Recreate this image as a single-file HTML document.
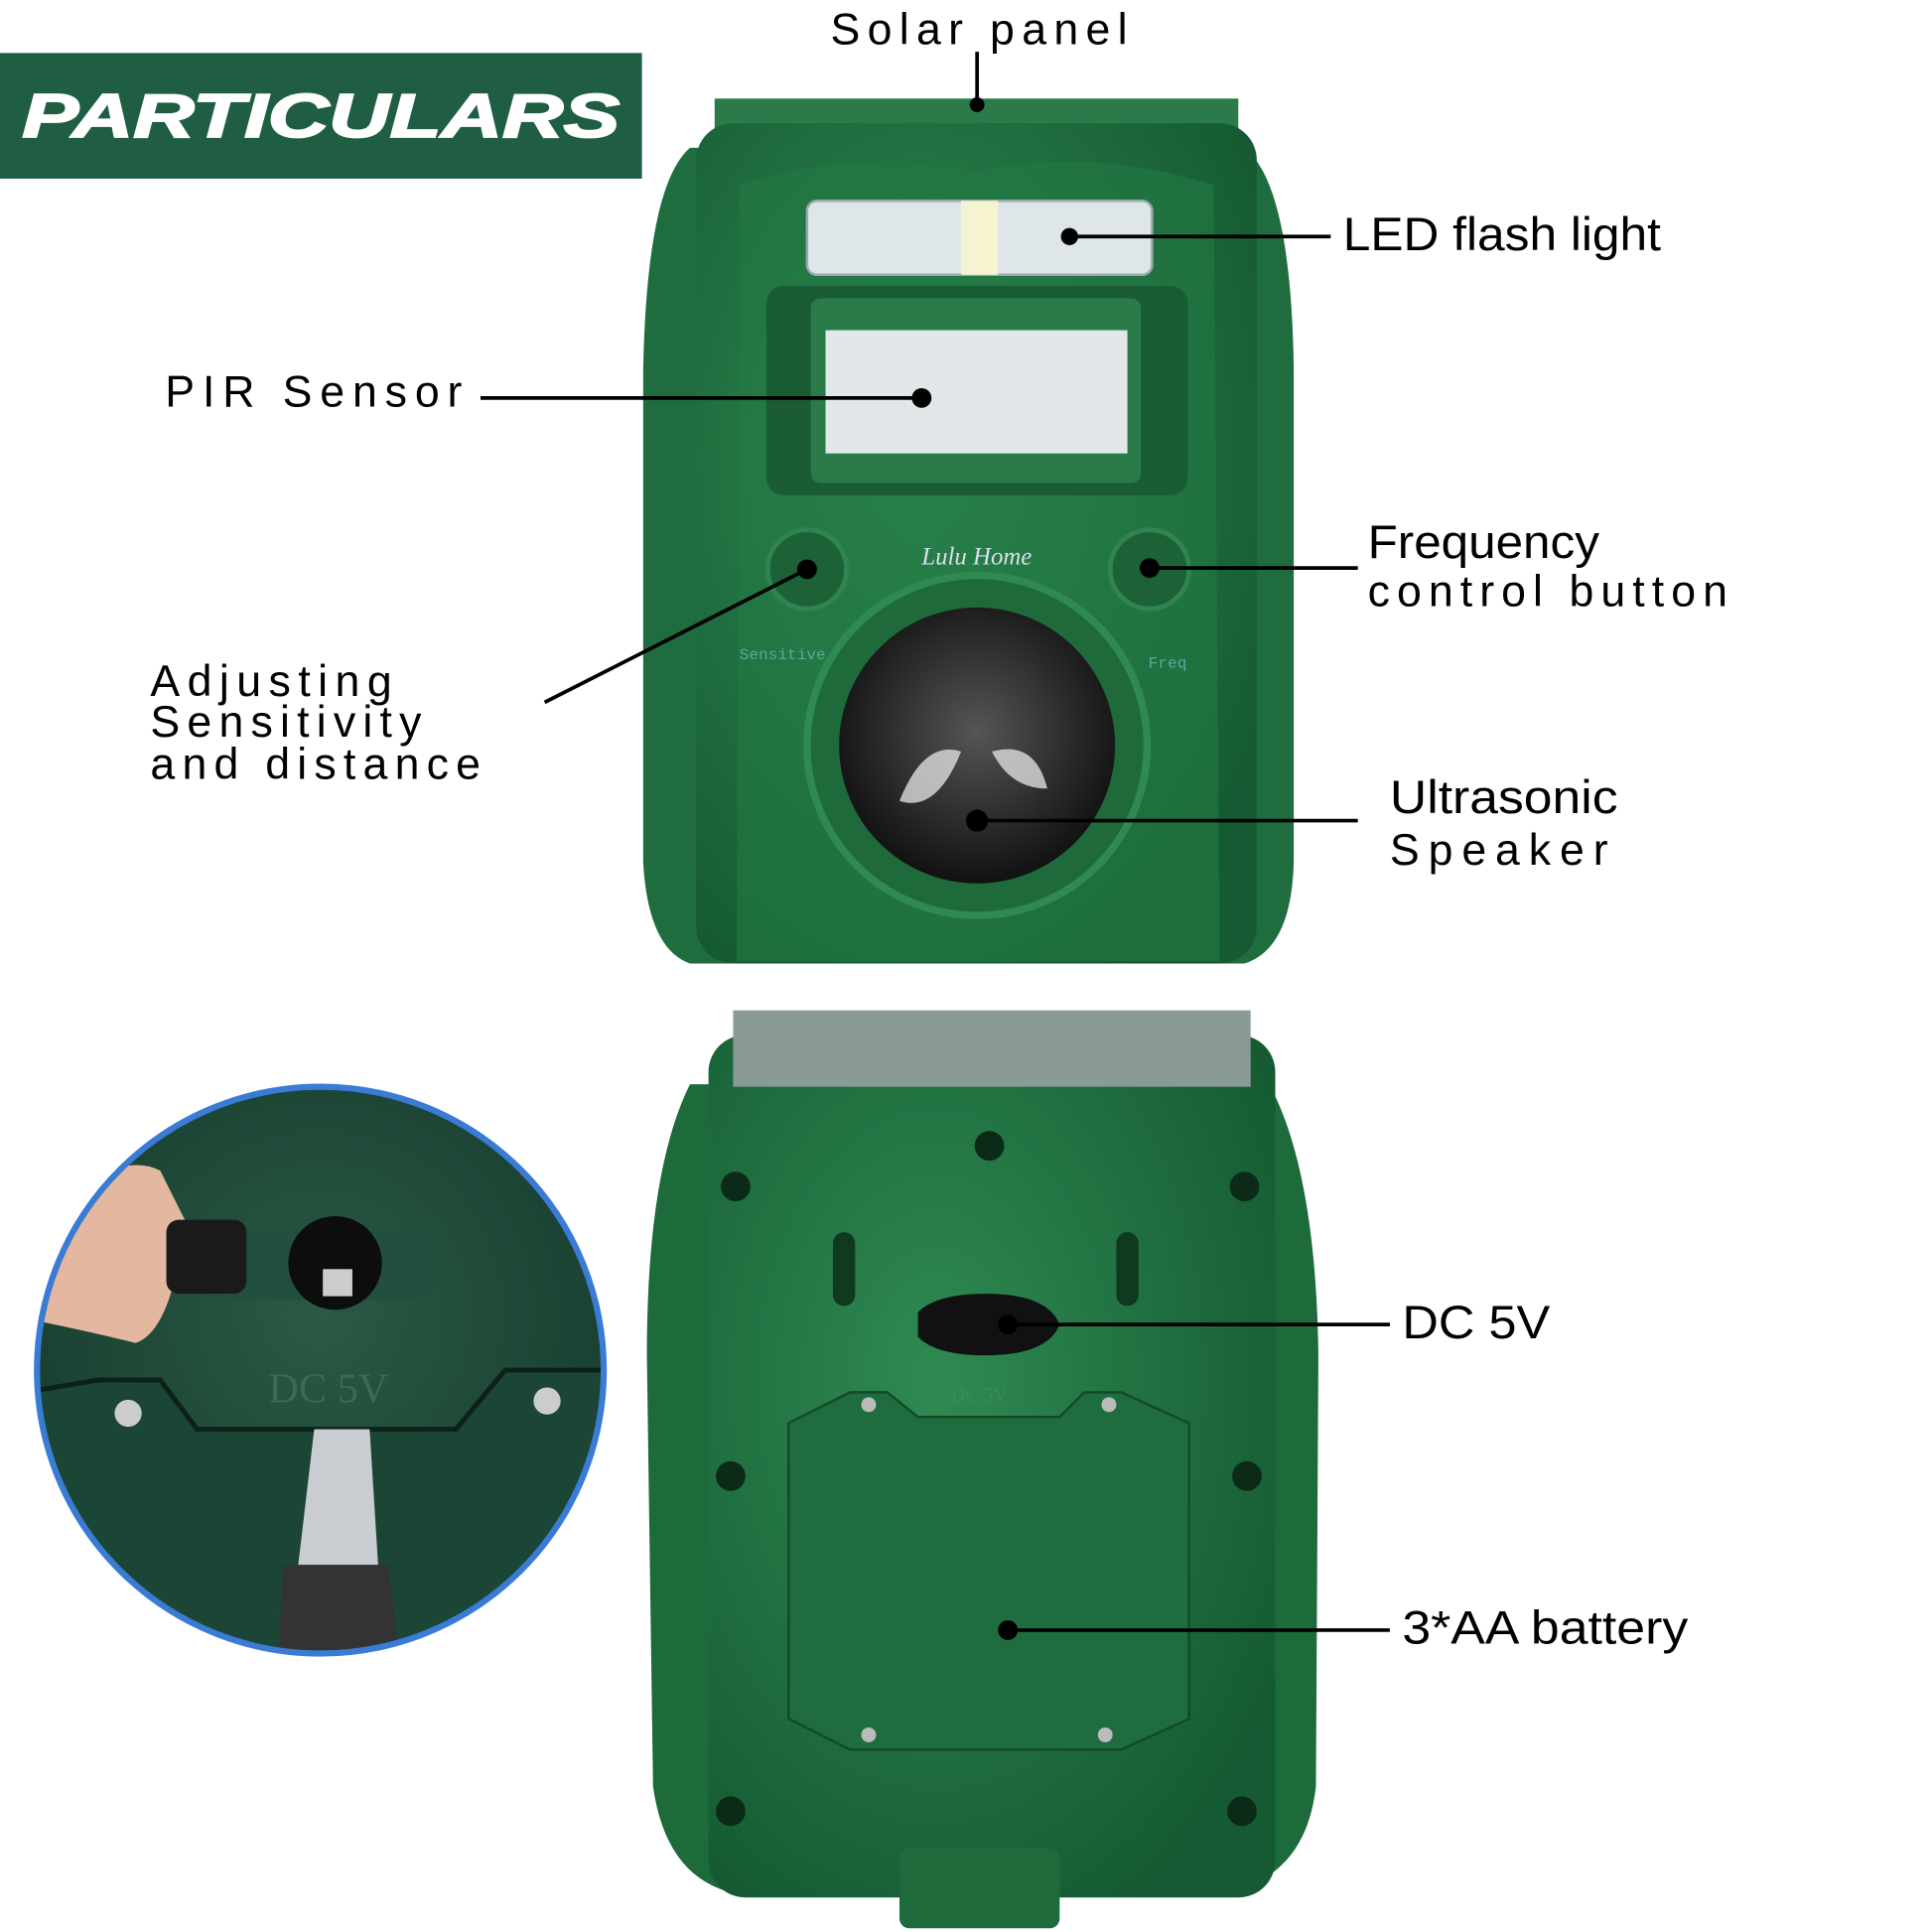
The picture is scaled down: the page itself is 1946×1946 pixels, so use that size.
<!DOCTYPE html>
<html><head><meta charset="utf-8"><style>html,body{margin:0;padding:0;background:#fff}svg{display:block}</style></head>
<body>
<svg width="1946" height="1946" viewBox="0 0 1568 1568" xmlns="http://www.w3.org/2000/svg" font-family="Liberation Sans, sans-serif">
<defs>
<radialGradient id="g1" cx="40%" cy="40%" r="70%"><stop offset="0" stop-color="#2f8a52"/><stop offset="1" stop-color="#155a32"/></radialGradient>
<radialGradient id="spk" cx="50%" cy="45%" r="55%"><stop offset="0" stop-color="#555"/><stop offset="1" stop-color="#111"/></radialGradient>
<radialGradient id="ins" cx="50%" cy="40%" r="60%"><stop offset="0" stop-color="#2a5a45"/><stop offset="1" stop-color="#173c2e"/></radialGradient>
<clipPath id="cc"><circle cx="260" cy="1112" r="230"/></clipPath>
</defs>
<rect width="1568" height="1568" fill="#fff"/>
<rect x="0" y="43" width="521" height="102" fill="#1f5e43"/>
<text x="18" y="111" font-size="50" font-weight="bold" font-style="italic" fill="#fff" stroke="#fff" stroke-width="1.5" textLength="485" lengthAdjust="spacingAndGlyphs">PARTICULARS</text>

<path d="M560 120 Q525 150 522 300 L522 700 Q526 770 560 782 L1010 782 Q1048 770 1050 700 L1050 300 Q1048 150 1010 120 Z" fill="#1f6d3e"/>
<rect x="580" y="80" width="425" height="45" fill="#2a7a4a"/>
<rect x="565" y="100" width="455" height="682" rx="30" fill="url(#g1)"/>
<path d="M600 150 Q700 118 790 140 Q880 118 985 150 L990 780 L598 780 Z" fill="#237a45" opacity="0.6"/>
<rect x="655" y="163" width="280" height="60" rx="8" fill="#dfe6ea" stroke="#9aa" stroke-width="2"/>
<rect x="780" y="163" width="30" height="60" fill="#f6f3d0"/>
<rect x="622" y="232" width="342" height="170" rx="14" fill="#1a5c34"/>
<rect x="658" y="242" width="268" height="150" rx="8" fill="#2a7a4a"/>
<rect x="670" y="268" width="245" height="100" fill="#e2e8ea"/>
<circle cx="655" cy="462" r="32" fill="#1c6236" stroke="#2f8450" stroke-width="4"/>
<circle cx="933" cy="462" r="32" fill="#1c6236" stroke="#2f8450" stroke-width="4"/>
<text x="748" y="458" font-size="20" font-style="italic" fill="#dde" font-family="Liberation Serif, serif">Lulu Home</text>
<text x="600" y="535" font-size="13" fill="#5a9" font-family="Liberation Mono, monospace">Sensitive</text>
<text x="932" y="542" font-size="13" fill="#5a9" font-family="Liberation Mono, monospace">Freq</text>
<circle cx="793" cy="605" r="138" fill="#1e6a3b" stroke="#2f8a52" stroke-width="6"/>
<circle cx="793" cy="605" r="112" fill="url(#spk)"/>
<path d="M730 650 Q750 600 780 610 Q760 660 730 650Z" fill="#ddd" opacity="0.8"/>
<path d="M805 610 Q840 600 850 640 Q820 640 805 610Z" fill="#ddd" opacity="0.8"/>

<path d="M560 880 Q525 950 525 1100 L530 1450 Q540 1520 590 1535 L1000 1535 Q1060 1520 1068 1450 L1070 1100 Q1068 950 1030 880 Z" fill="#1d6a3b"/>
<rect x="575" y="840" width="460" height="700" rx="30" fill="url(#g1)"/>
<rect x="595" y="820" width="420" height="62" fill="#8a9a96"/>
<rect x="730" y="1500" width="130" height="65" rx="8" fill="#1e6a3b"/>
<path d="M640 1155 L690 1130 L720 1130 L745 1150 L860 1150 L880 1130 L910 1130 L965 1155 L965 1395 L910 1420 L690 1420 L640 1395 Z" fill="#1f6d3e" stroke="#134a28" stroke-width="2"/>
<path d="M745 1065 Q760 1050 800 1050 Q850 1050 860 1075 Q850 1100 800 1100 Q760 1100 745 1085 Z" fill="#111"/>
<rect x="676" y="1000" width="18" height="60" rx="9" fill="#0f3a20"/>
<rect x="906" y="1000" width="18" height="60" rx="9" fill="#0f3a20"/>
<g fill="#0c2a18">
<circle cx="803" cy="930" r="12"/><circle cx="597" cy="963" r="12"/><circle cx="1010" cy="963" r="12"/>
<circle cx="593" cy="1198" r="12"/><circle cx="1012" cy="1198" r="12"/>
<circle cx="593" cy="1470" r="12"/><circle cx="1008" cy="1470" r="12"/>
</g>
<g fill="#bbb"><circle cx="705" cy="1140" r="6"/><circle cx="900" cy="1140" r="6"/><circle cx="705" cy="1408" r="6"/><circle cx="897" cy="1408" r="6"/></g>
<text x="772" y="1137" font-size="16" fill="#3d8a5a" font-family="Liberation Serif, serif">DC 5V</text>

<circle cx="260" cy="1112" r="230" fill="url(#ins)"/>
<g clip-path="url(#cc)">
<path d="M20 1130 L80 1120 L130 1120 L160 1160 L370 1160 L410 1112 L500 1112 L500 1400 L20 1400 Z" fill="#1b4636" stroke="#0c2219" stroke-width="4"/>
<rect x="190" y="995" width="165" height="60" fill="#22503f"/>
<circle cx="272" cy="1025" r="38" fill="#0d0d0d"/>
<rect x="262" y="1030" width="24" height="22" fill="#ccc"/>
<path d="M20 1000 Q90 930 130 950 L150 990 Q140 1080 110 1090 Q70 1080 20 1070 Z" fill="#e4b8a0"/>
<rect x="135" y="990" width="65" height="60" rx="10" fill="#1a1a1a"/>
<path d="M255 1160 L300 1160 L310 1320 L235 1330 Z" fill="#c9ccd0"/>
<path d="M230 1270 L315 1270 L325 1350 L225 1350 Z" fill="#333"/>
<circle cx="104" cy="1147" r="11" fill="#ccc"/><circle cx="444" cy="1137" r="11" fill="#ccc"/>
<text x="218" y="1138" font-size="34" fill="#3a6a56" font-family="Liberation Serif, serif">DC 5V</text>
</g>
<circle cx="260" cy="1112" r="230" fill="none" stroke="#3a7bd5" stroke-width="5"/>

<g stroke="#000" stroke-width="3" fill="none">
<line x1="793" y1="42" x2="793" y2="85"/>
<line x1="868" y1="192" x2="1080" y2="192"/>
<line x1="390" y1="323" x2="748" y2="323"/>
<line x1="933" y1="461" x2="1102" y2="461"/>
<line x1="442" y1="570" x2="655" y2="462"/>
<line x1="793" y1="666" x2="1102" y2="666"/>
<line x1="818" y1="1075" x2="1128" y2="1075"/>
<line x1="818" y1="1323" x2="1128" y2="1323"/>
</g>
<g fill="#000">
<circle cx="793" cy="85" r="6"/><circle cx="868" cy="192" r="7"/><circle cx="748" cy="323" r="8"/>
<circle cx="933" cy="461" r="8"/><circle cx="655" cy="462" r="8"/><circle cx="793" cy="666" r="9"/>
<circle cx="818" cy="1075" r="8"/><circle cx="818" cy="1323" r="8"/>
</g>
<g font-size="36" fill="#000">
<text x="674" y="36" textLength="241">Solar panel</text>
<text x="1090" y="203" font-size="38" textLength="258" lengthAdjust="spacingAndGlyphs">LED flash light</text>
<text x="134" y="330" textLength="241">PIR Sensor</text>
<text x="1110" y="453" font-size="38" textLength="188" lengthAdjust="spacingAndGlyphs">Frequency</text>
<text x="1110" y="492" textLength="292">control button</text>
<text x="122" y="565" textLength="196">Adjusting</text>
<text x="122" y="598" textLength="220">Sensitivity</text>
<text x="122" y="632" textLength="268">and distance</text>
<text x="1128" y="660" font-size="38" textLength="185" lengthAdjust="spacingAndGlyphs">Ultrasonic</text>
<text x="1128" y="702" textLength="177">Speaker</text>
<text x="1138" y="1086" font-size="38" textLength="120" lengthAdjust="spacingAndGlyphs">DC 5V</text>
<text x="1138" y="1334" font-size="38" textLength="232" lengthAdjust="spacingAndGlyphs">3*AA battery</text>
</g>
</svg>
</body></html>
